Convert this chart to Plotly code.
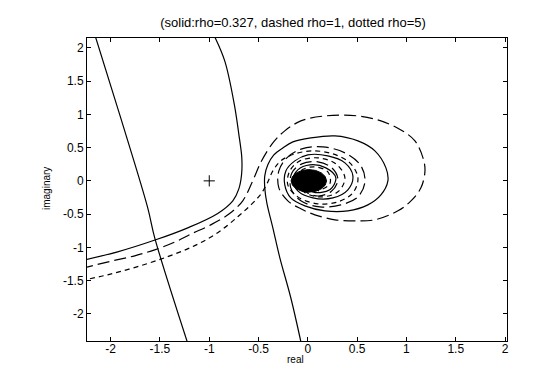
import plotly.graph_objects as go

# ---- data ----
line_x = [-2.165, -1.898, -1.624, -1.553, -1.215]
line_y = [2.22, 0.947, -0.406, -0.857, -2.46]

hyp_x = [-0.955, -0.843, -0.745, -0.700, -0.670, -0.672, -0.700, -0.761, -0.914, -1.218, -1.543, -1.929, -2.30]
hyp_y = [2.20, 1.805, 1.143, 0.700, 0.350, 0.100, -0.120, -0.300, -0.490, -0.707, -0.887, -1.068, -1.20]

solid_x = [-0.065, -0.173, -0.284, -0.355, -0.416, -0.437, -0.437, -0.406, -0.345, -0.254, -0.152,
           0.030, 0.274, 0.508, 0.680, 0.792, 0.812, 0.741, 0.609, 0.406, 0.173, -0.030, -0.173,
           -0.234, -0.223, -0.132, 0.000, 0.203, 0.376, 0.457, 0.406, 0.254, 0.051, -0.102, -0.152,
           -0.102, 0.020, 0.183, 0.284, 0.223, 0.050, -0.030]
solid_y = [-2.46, -1.759, -1.158, -0.707, -0.331, -0.105, 0.075, 0.241, 0.391, 0.496, 0.586,
           0.647, 0.677, 0.602, 0.451, 0.195, 0.000, -0.211, -0.361, -0.451, -0.451, -0.376, -0.256,
           -0.060, 0.150, 0.301, 0.391, 0.376, 0.271, 0.075, -0.135, -0.256, -0.256, -0.150, 0.015,
           0.165, 0.241, 0.195, 0.045, -0.135, -0.165, -0.030]

dashed_x = [-2.30, -2.000, -1.756, -1.553, -1.350, -1.188, -0.985, -0.800, -0.660, -0.565, -0.470,
            -0.345, -0.234, -0.071, 0.173, 0.508, 0.741, 0.944, 1.086, 1.168, 1.188, 1.147, 1.046,
            0.914, 0.680, 0.477, 0.274, 0.071, -0.071, -0.203, -0.294, -0.294, -0.213, -0.061,
            0.152, 0.376, 0.538, 0.579, 0.508, 0.335, 0.122, -0.071, -0.173, -0.162, -0.061, 0.102,
            0.244, 0.305, 0.234, 0.081, -0.051, -0.061]
dashed_y = [-1.32, -1.210, -1.128, -1.038, -0.922, -0.802, -0.662, -0.500, -0.300, -0.020, 0.300,
            0.590, 0.752, 0.902, 0.977, 0.977, 0.902, 0.767, 0.602, 0.346, 0.150, -0.105, -0.301,
            -0.451, -0.586, -0.602, -0.586, -0.511, -0.421, -0.301, -0.105, 0.150, 0.346, 0.481,
            0.511, 0.421, 0.226, -0.015, -0.241, -0.361, -0.391, -0.301, -0.105, 0.120, 0.256, 0.286,
            0.195, 0.015, -0.165, -0.226, -0.120, 0.045]

dotted_x = [-2.30, -2.030, -1.726, -1.421, -1.147, -0.914, -0.711, -0.570, -0.477, -0.410, -0.355,
            -0.274, -0.132, 0.051, 0.254, 0.426, 0.508, 0.457, 0.305, 0.102, -0.102, -0.203, -0.183,
            -0.081, 0.102, 0.284, 0.376, 0.305, 0.122, -0.041, -0.112, -0.071, 0.061, 0.203, 0.223,
            0.102]
dotted_y = [-1.50, -1.414, -1.290, -1.140, -0.975, -0.780, -0.540, -0.350, -0.200, -0.030, 0.150,
            0.301, 0.406, 0.451, 0.406, 0.271, 0.045, -0.180, -0.316, -0.346, -0.241, -0.060, 0.150,
            0.301, 0.346, 0.256, 0.045, -0.165, -0.241, -0.165, 0.000, 0.150, 0.211, 0.135, -0.045,
            -0.150]

blob_x = [0.19, 0.176, 0.137, 0.079, 0.01, -0.059, -0.117, -0.156, -0.17, -0.156, -0.117, -0.059,
          0.01, 0.079, 0.137, 0.176, 0.19]
blob_y = [0.0, 0.065, 0.12, 0.157, 0.17, 0.157, 0.12, 0.065, 0.0, -0.065, -0.12, -0.157,
          -0.17, -0.157, -0.12, -0.065, 0.0]

crit_x = [-1.0]
crit_y = [0.0]

tick_vals_x = [-2, -1.5, -1, -0.5, 0, 0.5, 1, 1.5, 2]
tick_text_x = ["-2", "-1.5", "-1", "-0.5", "0", "0.5", "1", "1.5", "2"]
tick_vals_y = [-2, -1.5, -1, -0.5, 0, 0.5, 1, 1.5, 2]
tick_text_y = ["-2", "-1.5", "-1", "-0.5", "0", "0.5", "1", "1.5", "2"]

title_text = "(solid:rho=0.327, dashed rho=1, dotted rho=5)"
xlabel_text = "real"
ylabel_text = "imaginary"

# ---- figure ----
FONT = "Liberation Sans, Arial, sans-serif"
lw = 1.2
fig = go.Figure()
fig.add_trace(go.Scatter(x=blob_x, y=blob_y, mode="lines", fill="toself", fillcolor="black",
                         line=dict(color="black", width=1), showlegend=False, hoverinfo="skip"))
fig.add_trace(go.Scatter(x=line_x, y=line_y, mode="lines", line=dict(color="black", width=lw),
                         line_shape="spline", showlegend=False))
fig.add_trace(go.Scatter(x=hyp_x, y=hyp_y, mode="lines", line=dict(color="black", width=lw),
                         line_shape="spline", showlegend=False))
fig.add_trace(go.Scatter(x=solid_x, y=solid_y, mode="lines", line=dict(color="black", width=lw),
                         line_shape="spline", showlegend=False))
fig.add_trace(go.Scatter(x=dashed_x, y=dashed_y, mode="lines",
                         line=dict(color="black", width=lw, dash="12px,5px"),
                         line_shape="spline", showlegend=False))
fig.add_trace(go.Scatter(x=dotted_x, y=dotted_y, mode="lines",
                         line=dict(color="black", width=lw, dash="5px,4px"),
                         line_shape="spline", showlegend=False))
fig.add_trace(go.Scatter(x=crit_x, y=crit_y, mode="markers",
                         marker=dict(symbol="cross-thin-open", size=8, color="black",
                                     line=dict(color="black", width=1)),
                         showlegend=False))

axis_common = dict(showline=True, linecolor="black", linewidth=1, mirror="ticks",
                   ticks="inside", ticklen=4, tickcolor="black", showgrid=False, zeroline=False,
                   tickfont=dict(family=FONT, size=12, color="black"))

fig.update_layout(
    width=540, height=376,
    margin=dict(l=79, r=41, t=30, b=43),
    paper_bgcolor="white", plot_bgcolor="white",
    title=dict(text=title_text, x=285 / 540, xanchor="center", xref="container",
               yref="container", y=1 - 14 / 376, yanchor="middle",
               font=dict(family=FONT, size=13, color="black")),
    xaxis=dict(range=[-2.24, 2.02], tickvals=tick_vals_x, ticktext=tick_text_x,
               ticklabelstandoff=-3, **axis_common),
    yaxis=dict(range=[-2.41, 2.15], tickvals=tick_vals_y, ticktext=tick_text_y,
               **axis_common),
    annotations=[
        dict(text=xlabel_text, xref="paper", yref="paper", x=(287 - 79) / 420, y=-(351 - 333) / 303,
             xanchor="center", yanchor="middle", showarrow=False,
             font=dict(family=FONT, size=10, color="black")),
        dict(text=ylabel_text, xref="paper", yref="paper", x=-(79 - 38) / 420, y=(333 - 181) / 303,
             xanchor="center", yanchor="middle", showarrow=False, textangle=-90,
             font=dict(family=FONT, size=10, color="black")),
    ],
)

fig.write_html("out.html")
